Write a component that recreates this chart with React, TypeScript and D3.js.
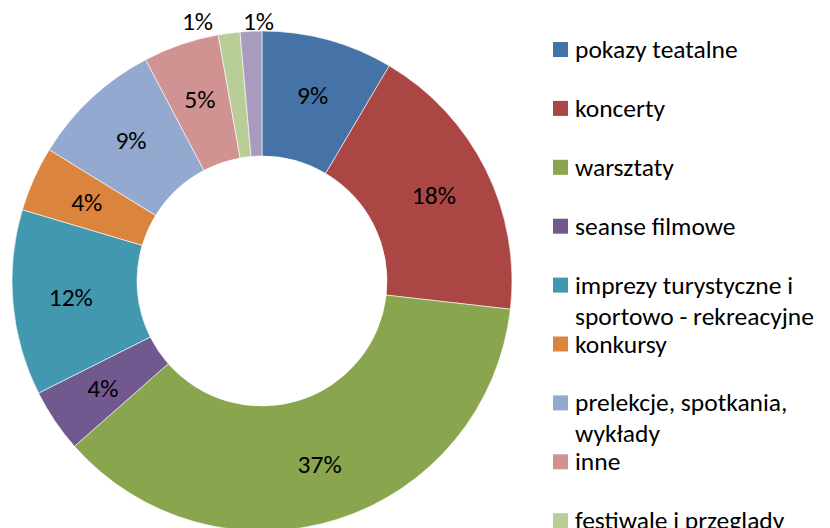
import React from "react";
import * as d3 from "d3";

const categories = [
  "pokazy teatalne",
  "koncerty",
  "warsztaty",
  "seanse filmowe",
  "imprezy turystyczne i sportowo - rekreacyjne",
  "konkursy",
  "prelekcje, spotkania, wykłady",
  "inne",
  "festiwale i przeglądy",
  "wystawy",
];
const values = [8.5, 18.3, 36.7, 4.1, 12.0, 4.2, 8.5, 4.9, 1.4, 1.4];
const colors = [
  "#4572A7",
  "#AA4643",
  "#89A54E",
  "#71588F",
  "#4198AF",
  "#DB843D",
  "#93A9CF",
  "#D19392",
  "#B9CD96",
  "#A99BBD",
];

const W = 830;
const H = 528;
const FONT = "Carlito, Lato, 'Open Sans', sans-serif";

function wrap(text: string, maxChars: number): string[] {
  const words = text.split(" ");
  const lines: string[] = [];
  let cur = "";
  for (const w of words) {
    const t = cur ? cur + " " + w : w;
    if (t.length > maxChars && cur) {
      lines.push(cur);
      cur = w;
    } else cur = t;
  }
  if (cur) lines.push(cur);
  return lines;
}

export default function App() {
  const cx = 262;
  const cy = 281;
  const R = 250;
  const r = 125;
  const pie = d3.pie<number>().sort(null).value((d) => d)(values);
  const arc = d3.arc<d3.PieArcDatum<number>>().innerRadius(r).outerRadius(R);
  const labelArc = d3
    .arc<d3.PieArcDatum<number>>()
    .innerRadius(192)
    .outerRadius(192);

  const labels = pie.map((p) => {
    const mid = (p.startAngle + p.endAngle) / 2;
    const small = p.data < 2;
    if (!small) {
      const [x, y] = labelArc.centroid(p);
      return { x, y, small, text: Math.round(p.data) + "%" };
    }
    const rr = R + 12;
    return {
      x: rr * Math.sin(mid),
      y: -R - 10,
      small,
      text: Math.round(p.data) + "%",
    };
  });
  const outside = labels.filter((l) => l.small);
  for (let i = outside.length - 1; i >= 0; i--) {
    if (i === outside.length - 1) outside[i].x += 8;
    else outside[i].x = Math.min(outside[i].x, outside[i + 1].x - 61);
  }

  const legendX = 553;
  const legendY0 = 49.5;
  const legendStep = 58.9;
  const lineH = 31;
  const fs = 25.5;

  return (
    <svg
      width={W}
      height={H}
      style={{ position: "absolute", left: 0, top: 0, background: "#fff" }}
      fontFamily={FONT}
    >
      <g transform={`translate(${cx},${cy})`}>
        {pie.map((p, i) => (
          <path
            key={i}
            d={arc(p) || ""}
            fill={colors[i]}
            stroke="#fff"
            strokeWidth={0.6}
          />
        ))}
        {labels.map((l, i) => (
          <text
            key={i}
            x={l.x}
            y={l.y}
            textAnchor="middle"
            dominantBaseline="central"
            fontSize={fs}
            fill="#000"
          >
            {l.text}
          </text>
        ))}
      </g>
      <g>
        {categories.map((c, i) => {
          const y = legendY0 + i * legendStep;
          const lines = wrap(c, 22);
          return (
            <g key={i}>
              <rect
                x={legendX}
                y={y - 7.5}
                width={15}
                height={15}
                fill={colors[i]}
              />
              {lines.map((ln, j) => (
                <text
                  key={j}
                  x={legendX + 22}
                  y={y + j * lineH}
                  dominantBaseline="central"
                  fontSize={fs}
                  fill="#000"
                >
                  {ln}
                </text>
              ))}
            </g>
          );
        })}
      </g>
    </svg>
  );
}
